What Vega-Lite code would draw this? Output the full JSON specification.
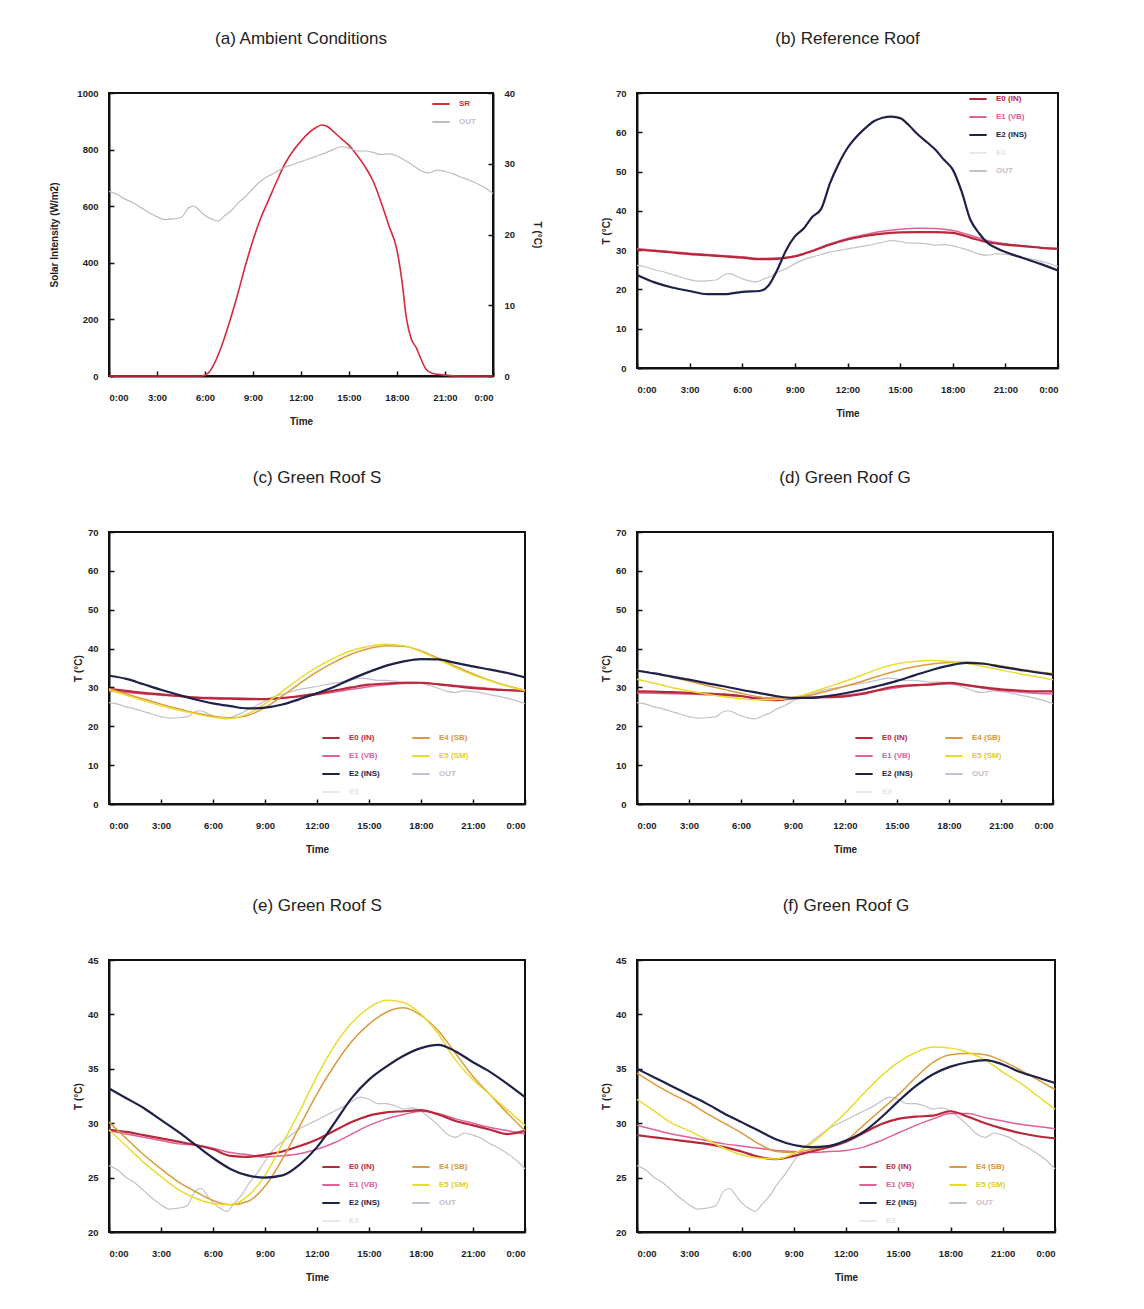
{
  "$schema": "https://vega.github.io/schema/vega-lite/v6.json",
  "background": "white",
  "padding": {"left": 48, "top": 29, "right": 5, "bottom": 5},
  "columns": 2,
  "bounds": "flush",
  "align": "each",
  "spacing": {"row": 156, "column": 112},
  "resolve": {"scale": {"color": "independent"}, "legend": {"color": "independent"}},
  "datasets": {
    "sr": [
      {"h": 0, "SR": 0}, {"h": 1, "SR": 0}, {"h": 2, "SR": 0}, {"h": 3, "SR": 0}, {"h": 4, "SR": 0}, {"h": 5, "SR": 0},
      {"h": 5.8, "SR": 0}, {"h": 6.2, "SR": 10}, {"h": 6.5, "SR": 35}, {"h": 7, "SR": 100}, {"h": 7.5, "SR": 185},
      {"h": 8, "SR": 280}, {"h": 8.5, "SR": 385}, {"h": 9, "SR": 480}, {"h": 9.5, "SR": 560}, {"h": 10, "SR": 625},
      {"h": 10.5, "SR": 690}, {"h": 11, "SR": 750}, {"h": 11.5, "SR": 795}, {"h": 12, "SR": 830}, {"h": 12.5, "SR": 860},
      {"h": 13, "SR": 880}, {"h": 13.3, "SR": 887}, {"h": 13.7, "SR": 880}, {"h": 14, "SR": 865}, {"h": 14.5, "SR": 840},
      {"h": 15, "SR": 815}, {"h": 15.5, "SR": 780}, {"h": 16, "SR": 740}, {"h": 16.5, "SR": 690}, {"h": 17, "SR": 615},
      {"h": 17.5, "SR": 530}, {"h": 18, "SR": 445}, {"h": 18.3, "SR": 340}, {"h": 18.6, "SR": 200}, {"h": 18.9, "SR": 130},
      {"h": 19.2, "SR": 100}, {"h": 19.5, "SR": 60}, {"h": 19.8, "SR": 25}, {"h": 20.2, "SR": 10}, {"h": 21, "SR": 3},
      {"h": 22, "SR": 0}, {"h": 23, "SR": 0}, {"h": 24, "SR": 0}
    ],
    "out": [
      {"h": 0, "OUT": 26.1}, {"h": 0.5, "OUT": 25.7}, {"h": 1, "OUT": 25.0}, {"h": 1.5, "OUT": 24.5}, {"h": 2, "OUT": 23.8},
      {"h": 2.5, "OUT": 23.1}, {"h": 3, "OUT": 22.5}, {"h": 3.5, "OUT": 22.1}, {"h": 4, "OUT": 22.2}, {"h": 4.5, "OUT": 22.4},
      {"h": 5, "OUT": 23.8}, {"h": 5.3, "OUT": 24.0}, {"h": 5.7, "OUT": 23.3}, {"h": 6, "OUT": 22.7}, {"h": 6.5, "OUT": 22.1},
      {"h": 6.8, "OUT": 21.9}, {"h": 7.2, "OUT": 22.6}, {"h": 7.7, "OUT": 23.5}, {"h": 8, "OUT": 24.3}, {"h": 8.5, "OUT": 25.3},
      {"h": 9, "OUT": 26.5}, {"h": 9.5, "OUT": 27.6}, {"h": 10, "OUT": 28.3}, {"h": 10.5, "OUT": 28.9}, {"h": 11, "OUT": 29.5},
      {"h": 11.5, "OUT": 29.9}, {"h": 12, "OUT": 30.3}, {"h": 12.5, "OUT": 30.7}, {"h": 13, "OUT": 31.1}, {"h": 13.5, "OUT": 31.5},
      {"h": 14, "OUT": 32.0}, {"h": 14.5, "OUT": 32.4}, {"h": 15, "OUT": 32.2}, {"h": 15.5, "OUT": 31.8}, {"h": 16, "OUT": 31.8},
      {"h": 16.5, "OUT": 31.6}, {"h": 17, "OUT": 31.3}, {"h": 17.5, "OUT": 31.4}, {"h": 18, "OUT": 31.1}, {"h": 18.5, "OUT": 30.5},
      {"h": 19, "OUT": 29.8}, {"h": 19.5, "OUT": 29.0}, {"h": 20, "OUT": 28.7}, {"h": 20.5, "OUT": 29.1}, {"h": 21, "OUT": 28.9},
      {"h": 21.5, "OUT": 28.6}, {"h": 22, "OUT": 28.1}, {"h": 22.5, "OUT": 27.7}, {"h": 23, "OUT": 27.2}, {"h": 23.5, "OUT": 26.6},
      {"h": 24, "OUT": 25.8}
    ],
    "b": [
      {"h": 0, "E0": 30.1, "E1": 30.4, "E2": 23.7}, {"h": 1, "E0": 29.8, "E1": 30.0, "E2": 21.8}, {"h": 2, "E0": 29.4, "E1": 29.6, "E2": 20.5},
      {"h": 3, "E0": 29.0, "E1": 29.2, "E2": 19.6}, {"h": 4, "E0": 28.7, "E1": 28.9, "E2": 18.8}, {"h": 5, "E0": 28.4, "E1": 28.6, "E2": 18.8},
      {"h": 6, "E0": 28.1, "E1": 28.3, "E2": 19.4}, {"h": 7, "E0": 27.7, "E1": 27.9, "E2": 19.6}, {"h": 7.5, "E2": 21.0},
      {"h": 8, "E0": 27.8, "E1": 28.0, "E2": 25.0}, {"h": 8.5, "E2": 30.0}, {"h": 9, "E0": 28.4, "E1": 28.5, "E2": 33.5}, {"h": 9.5, "E2": 35.5},
      {"h": 10, "E0": 29.8, "E1": 29.9, "E2": 38.5}, {"h": 10.5, "E2": 40.5}, {"h": 11, "E0": 31.4, "E1": 31.6, "E2": 47.0}, {"h": 11.5, "E2": 52.0},
      {"h": 12, "E0": 32.7, "E1": 33.0, "E2": 56.0}, {"h": 12.5, "E2": 58.8}, {"h": 13, "E0": 33.6, "E1": 34.0, "E2": 61.0}, {"h": 13.5, "E2": 62.8},
      {"h": 14, "E0": 34.2, "E1": 34.8, "E2": 63.7}, {"h": 14.5, "E2": 64.0}, {"h": 15, "E0": 34.5, "E1": 35.3, "E2": 63.6}, {"h": 15.5, "E2": 61.8},
      {"h": 16, "E0": 34.6, "E1": 35.6, "E2": 59.5}, {"h": 16.5, "E2": 57.6}, {"h": 17, "E0": 34.6, "E1": 35.5, "E2": 55.6}, {"h": 17.5, "E2": 53.0},
      {"h": 18, "E0": 34.4, "E1": 35.0, "E2": 50.5}, {"h": 18.5, "E2": 45.0}, {"h": 19, "E0": 33.2, "E1": 33.8, "E2": 37.8}, {"h": 19.5, "E2": 34.3},
      {"h": 20, "E0": 32.0, "E1": 32.4, "E2": 31.8}, {"h": 20.5, "E2": 30.5}, {"h": 21, "E0": 31.4, "E1": 31.6, "E2": 29.5},
      {"h": 22, "E0": 31.0, "E1": 31.1, "E2": 28.0}, {"h": 23, "E0": 30.6, "E1": 30.7, "E2": 26.5}, {"h": 24, "E0": 30.3, "E1": 30.4, "E2": 24.8}
    ],
    "c": [
      {"h": 0, "E0": 29.6, "E1": 29.1, "E2": 33.0, "E4": 29.7, "E5": 29.4},
      {"h": 1, "E0": 29.1, "E1": 28.7, "E2": 32.2, "E4": 28.3, "E5": 28.0},
      {"h": 2, "E0": 28.6, "E1": 28.3, "E2": 30.8, "E4": 27.0, "E5": 26.6},
      {"h": 3, "E0": 28.2, "E1": 28.0, "E2": 29.4, "E4": 25.7, "E5": 25.3},
      {"h": 4, "E0": 27.8, "E1": 27.7, "E2": 28.1, "E4": 24.5, "E5": 24.2},
      {"h": 5, "E0": 27.4, "E1": 27.5, "E2": 26.9, "E4": 23.4, "E5": 23.2},
      {"h": 6, "E0": 27.2, "E1": 27.4, "E2": 25.9, "E4": 22.6, "E5": 22.3},
      {"h": 7, "E0": 27.1, "E1": 27.3, "E2": 25.2, "E4": 22.2, "E5": 22.0},
      {"h": 8, "E0": 27.0, "E1": 27.2, "E2": 24.6, "E4": 22.8, "E5": 23.2},
      {"h": 9, "E0": 27.0, "E1": 27.1, "E2": 24.8, "E4": 24.8, "E5": 25.8},
      {"h": 10, "E0": 27.3, "E1": 27.3, "E2": 25.6, "E4": 27.8, "E5": 29.0},
      {"h": 11, "E0": 27.8, "E1": 27.6, "E2": 27.0, "E4": 31.0, "E5": 32.3},
      {"h": 12, "E0": 28.4, "E1": 28.1, "E2": 28.5, "E4": 34.0, "E5": 35.2},
      {"h": 13, "E0": 29.2, "E1": 28.8, "E2": 30.2, "E4": 36.5, "E5": 37.6},
      {"h": 14, "E0": 30.0, "E1": 29.5, "E2": 32.2, "E4": 38.6, "E5": 39.5},
      {"h": 15, "E0": 30.7, "E1": 30.2, "E2": 34.0, "E4": 40.0, "E5": 40.6},
      {"h": 16, "E0": 31.0, "E1": 30.7, "E2": 35.6, "E4": 40.7, "E5": 41.1},
      {"h": 17, "E0": 31.2, "E1": 31.0, "E2": 36.7, "E4": 40.6, "E5": 40.7},
      {"h": 18, "E0": 31.2, "E1": 31.1, "E2": 37.3, "E4": 39.4, "E5": 39.2},
      {"h": 19, "E0": 30.8, "E1": 30.9, "E2": 37.2, "E4": 37.5, "E5": 37.2},
      {"h": 20, "E0": 30.3, "E1": 30.5, "E2": 36.3, "E4": 35.4, "E5": 35.1},
      {"h": 21, "E0": 29.8, "E1": 30.1, "E2": 35.4, "E4": 33.5, "E5": 33.2},
      {"h": 22, "E0": 29.5, "E1": 29.7, "E2": 34.6, "E4": 31.8, "E5": 31.7},
      {"h": 23, "E0": 29.3, "E1": 29.3, "E2": 33.7, "E4": 30.4, "E5": 30.3},
      {"h": 24, "E0": 29.1, "E1": 29.0, "E2": 32.6, "E4": 29.3, "E5": 29.2}
    ],
    "d": [
      {"h": 0, "E0": 29.0, "E1": 28.6, "E2": 34.3, "E4": 34.4, "E5": 32.1},
      {"h": 1, "E0": 28.9, "E1": 28.5, "E2": 33.6, "E4": 33.6, "E5": 31.1},
      {"h": 2, "E0": 28.8, "E1": 28.4, "E2": 32.8, "E4": 32.6, "E5": 30.0},
      {"h": 3, "E0": 28.6, "E1": 28.3, "E2": 32.0, "E4": 31.6, "E5": 29.1},
      {"h": 4, "E0": 28.4, "E1": 28.1, "E2": 31.1, "E4": 30.5, "E5": 28.3},
      {"h": 5, "E0": 28.2, "E1": 27.9, "E2": 30.3, "E4": 29.5, "E5": 27.6},
      {"h": 6, "E0": 27.8, "E1": 27.7, "E2": 29.4, "E4": 28.5, "E5": 27.1},
      {"h": 7, "E0": 27.0, "E1": 27.4, "E2": 28.6, "E4": 27.6, "E5": 26.8},
      {"h": 8, "E0": 26.7, "E1": 27.3, "E2": 27.8, "E4": 27.0, "E5": 26.9},
      {"h": 9, "E0": 27.2, "E1": 27.3, "E2": 27.3, "E4": 27.3, "E5": 27.4},
      {"h": 10, "E0": 27.4, "E1": 27.4, "E2": 27.3, "E4": 28.0, "E5": 28.6},
      {"h": 11, "E0": 27.5, "E1": 27.6, "E2": 27.8, "E4": 29.1, "E5": 30.1},
      {"h": 12, "E0": 27.7, "E1": 28.0, "E2": 28.5, "E4": 30.3, "E5": 31.6},
      {"h": 13, "E0": 28.3, "E1": 28.6, "E2": 29.4, "E4": 31.6, "E5": 33.2},
      {"h": 14, "E0": 29.4, "E1": 29.2, "E2": 30.5, "E4": 33.0, "E5": 34.9},
      {"h": 15, "E0": 30.3, "E1": 29.9, "E2": 31.7, "E4": 34.3, "E5": 36.1},
      {"h": 16, "E0": 30.6, "E1": 30.4, "E2": 33.1, "E4": 35.3, "E5": 36.7},
      {"h": 17, "E0": 30.8, "E1": 30.7, "E2": 34.5, "E4": 36.0, "E5": 36.9},
      {"h": 18, "E0": 31.2, "E1": 30.9, "E2": 35.6, "E4": 36.4, "E5": 36.7},
      {"h": 19, "E0": 30.6, "E1": 30.5, "E2": 36.3, "E4": 36.5, "E5": 36.2},
      {"h": 20, "E0": 30.0, "E1": 29.8, "E2": 36.1, "E4": 36.2, "E5": 35.4},
      {"h": 21, "E0": 29.5, "E1": 29.2, "E2": 35.3, "E4": 35.5, "E5": 34.5},
      {"h": 22, "E0": 29.2, "E1": 28.8, "E2": 34.6, "E4": 34.8, "E5": 33.6},
      {"h": 23, "E0": 29.0, "E1": 28.5, "E2": 33.9, "E4": 34.1, "E5": 32.8},
      {"h": 24, "E0": 29.0, "E1": 28.3, "E2": 33.3, "E4": 33.5, "E5": 32.0}
    ],
    "e": [
      {"h": 0, "E0": 29.4, "E1": 29.3, "E2": 33.2, "E4": 30.1, "E5": 29.4},
      {"h": 1, "E0": 29.2, "E1": 29.0, "E2": 32.3, "E4": 28.6, "E5": 27.9},
      {"h": 2, "E0": 28.9, "E1": 28.7, "E2": 31.4, "E4": 27.1, "E5": 26.4},
      {"h": 3, "E0": 28.6, "E1": 28.4, "E2": 30.3, "E4": 25.8, "E5": 25.1},
      {"h": 4, "E0": 28.3, "E1": 28.1, "E2": 29.2, "E4": 24.6, "E5": 23.9},
      {"h": 5, "E0": 28.0, "E1": 28.0, "E2": 28.0, "E4": 23.7, "E5": 23.1},
      {"h": 6, "E0": 27.6, "E1": 27.7, "E2": 26.8, "E4": 22.9, "E5": 22.6},
      {"h": 7, "E0": 27.0, "E1": 27.3, "E2": 25.8, "E4": 22.5, "E5": 22.5},
      {"h": 8, "E0": 26.9, "E1": 27.1, "E2": 25.2, "E4": 22.8, "E5": 23.3},
      {"h": 9, "E0": 27.1, "E1": 26.9, "E2": 25.0, "E4": 24.2, "E5": 25.2},
      {"h": 10, "E0": 27.4, "E1": 27.0, "E2": 25.2, "E4": 26.7, "E5": 28.1},
      {"h": 11, "E0": 27.9, "E1": 27.2, "E2": 26.2, "E4": 29.7, "E5": 31.1},
      {"h": 12, "E0": 28.5, "E1": 27.6, "E2": 27.8, "E4": 32.7, "E5": 34.3},
      {"h": 13, "E0": 29.3, "E1": 28.2, "E2": 30.0, "E4": 35.3, "E5": 37.1},
      {"h": 14, "E0": 30.1, "E1": 29.0, "E2": 32.3, "E4": 37.5, "E5": 39.2},
      {"h": 15, "E0": 30.7, "E1": 29.8, "E2": 34.0, "E4": 39.1, "E5": 40.6},
      {"h": 16, "E0": 31.0, "E1": 30.4, "E2": 35.2, "E4": 40.2, "E5": 41.3},
      {"h": 17, "E0": 31.1, "E1": 30.8, "E2": 36.2, "E4": 40.6, "E5": 41.1},
      {"h": 18, "E0": 31.2, "E1": 31.1, "E2": 36.9, "E4": 39.9, "E5": 40.0},
      {"h": 19, "E0": 30.8, "E1": 30.9, "E2": 37.2, "E4": 38.5, "E5": 38.2},
      {"h": 20, "E0": 30.2, "E1": 30.4, "E2": 36.6, "E4": 36.4, "E5": 35.8},
      {"h": 21, "E0": 29.8, "E1": 30.0, "E2": 35.6, "E4": 34.3, "E5": 34.0},
      {"h": 22, "E0": 29.4, "E1": 29.6, "E2": 34.7, "E4": 32.6, "E5": 32.6},
      {"h": 23, "E0": 29.0, "E1": 29.3, "E2": 33.6, "E4": 30.9, "E5": 31.2},
      {"h": 24, "E0": 29.3, "E1": 29.0, "E2": 32.4, "E4": 29.3, "E5": 29.8}
    ],
    "f": [
      {"h": 0, "E0": 28.9, "E1": 29.8, "E2": 35.0, "E4": 34.6, "E5": 32.2},
      {"h": 1, "E0": 28.7, "E1": 29.4, "E2": 34.2, "E4": 33.6, "E5": 31.1},
      {"h": 2, "E0": 28.5, "E1": 29.0, "E2": 33.4, "E4": 32.7, "E5": 30.0},
      {"h": 3, "E0": 28.3, "E1": 28.7, "E2": 32.6, "E4": 31.9, "E5": 29.3},
      {"h": 4, "E0": 28.1, "E1": 28.4, "E2": 31.8, "E4": 30.9, "E5": 28.5},
      {"h": 5, "E0": 27.8, "E1": 28.1, "E2": 30.9, "E4": 30.0, "E5": 27.7},
      {"h": 6, "E0": 27.4, "E1": 27.9, "E2": 30.1, "E4": 29.1, "E5": 27.1},
      {"h": 7, "E0": 26.9, "E1": 27.7, "E2": 29.3, "E4": 28.1, "E5": 26.8},
      {"h": 8, "E0": 26.7, "E1": 27.5, "E2": 28.5, "E4": 27.4, "E5": 26.7},
      {"h": 9, "E0": 27.0, "E1": 27.4, "E2": 28.0, "E4": 27.3, "E5": 27.2},
      {"h": 10, "E0": 27.4, "E1": 27.3, "E2": 27.8, "E4": 27.6, "E5": 28.1},
      {"h": 11, "E0": 27.8, "E1": 27.4, "E2": 27.9, "E4": 27.9, "E5": 29.5},
      {"h": 12, "E0": 28.3, "E1": 27.5, "E2": 28.4, "E4": 28.4, "E5": 31.0},
      {"h": 13, "E0": 29.1, "E1": 27.8, "E2": 29.2, "E4": 29.8, "E5": 32.7},
      {"h": 14, "E0": 29.9, "E1": 28.4, "E2": 30.5, "E4": 31.2, "E5": 34.3},
      {"h": 15, "E0": 30.4, "E1": 29.1, "E2": 32.0, "E4": 32.6, "E5": 35.6},
      {"h": 16, "E0": 30.6, "E1": 29.8, "E2": 33.4, "E4": 34.2, "E5": 36.5},
      {"h": 17, "E0": 30.7, "E1": 30.4, "E2": 34.5, "E4": 35.6, "E5": 37.0},
      {"h": 18, "E0": 31.1, "E1": 30.9, "E2": 35.2, "E4": 36.3, "E5": 36.9},
      {"h": 19, "E0": 30.6, "E1": 30.9, "E2": 35.6, "E4": 36.4, "E5": 36.5},
      {"h": 20, "E0": 30.0, "E1": 30.5, "E2": 35.8, "E4": 36.3, "E5": 35.8},
      {"h": 21, "E0": 29.5, "E1": 30.2, "E2": 35.4, "E4": 35.7, "E5": 34.7},
      {"h": 22, "E0": 29.1, "E1": 29.9, "E2": 34.7, "E4": 34.9, "E5": 33.7},
      {"h": 23, "E0": 28.8, "E1": 29.7, "E2": 34.2, "E4": 34.0, "E5": 32.5},
      {"h": 24, "E0": 28.6, "E1": 29.5, "E2": 33.7, "E4": 33.1, "E5": 31.3}
    ]
  },
  "concat": [
    {
      "width": 384, "height": 283,
      "title": "(a) Ambient Conditions",
      "layer": [
        {
          "data": {"name": "sr"},
          "mark": {"type": "line", "interpolate": "monotone", "strokeWidth": 1.6},
          "encoding": {
            "x": {"field": "h", "type": "quantitative", "scale": {"domain": [0, 24], "nice": false}, "axis": {"values": [0, 3, 6, 9, 12, 15, 18, 21, 24], "labelExpr": "(datum.value % 24) + ':00'", "title": "Time"}},
            "y": {"field": "SR", "type": "quantitative", "scale": {"domain": [0, 1000], "nice": false}, "axis": {"title": "Solar Intensity (W/m2)", "values": [0, 200, 400, 600, 800, 1000], "format": "d", "titlePadding": 17}},
            "color": {"datum": "SR", "type": "nominal", "scale": {"domain": ["SR", "OUT"], "range": ["#d42a3c", "#bdbdbd"]}, "legend": {"title": null, "legendX": 322, "legendY": 1}}
          }
        },
        {
          "data": {"name": "out"},
          "mark": {"type": "line", "interpolate": "monotone", "strokeWidth": 1.2},
          "encoding": {
            "x": {"field": "h", "type": "quantitative"},
            "y": {"field": "OUT", "type": "quantitative", "scale": {"domain": [0, 40], "nice": false}, "axis": {"orient": "right", "title": "T (°C)", "values": [0, 10, 20, 30, 40], "titlePadding": 17}},
            "color": {"datum": "OUT", "type": "nominal"}
          }
        }
      ],
      "resolve": {"scale": {"y": "independent"}}
    },
    {
      "width": 421, "height": 275,
      "title": "(b) Reference Roof",
      "encoding": {
        "x": {"field": "h", "type": "quantitative", "scale": {"domain": [0, 24], "nice": false}, "axis": {"values": [0, 3, 6, 9, 12, 15, 18, 21, 24], "labelExpr": "(datum.value % 24) + ':00'", "title": "Time"}},
        "y": {"field": "t", "type": "quantitative", "scale": {"domain": [0, 70], "nice": false}, "axis": {"title": "T (°C)", "values": [0, 10, 20, 30, 40, 50, 60, 70]}},
        "color": {"field": "s", "type": "nominal", "scale": {"domain": ["E0", "E1", "E2", "E3", "OUT"], "range": ["#b8283a", "#e0609a", "#1e2248", "#e8e6ee", "#c4c0cc"]},
          "legend": {"title": null, "legendX": 331, "legendY": -4, "labelExpr": "datum.label=='E0'?'E0 (IN)':datum.label=='E1'?'E1 (VB)':datum.label=='E2'?'E2 (INS)':datum.label=='E4'?'E4 (SB)':datum.label=='E5'?'E5 (SM)':datum.label"}}
      },
      "layer": [
        {"data": {"name": "out"}, "transform": [{"fold": ["OUT"], "as": ["s", "t"]}], "mark": {"type": "line", "interpolate": "monotone", "strokeWidth": 1.2}},
        {"data": {"name": "b"}, "transform": [{"fold": ["E1", "E0", "E2"], "as": ["s", "t"]}, {"filter": "isValid(datum.t)"}],
          "mark": {"type": "line", "interpolate": "monotone"},
          "encoding": {"strokeWidth": {"condition": {"test": "datum.s=='E0'||datum.s=='E2'", "value": 2.2}, "value": 1.5}}}
      ]
    },
    {
      "width": 416, "height": 272,
      "title": "(c) Green Roof S",
      "encoding": {
        "x": {"field": "h", "type": "quantitative", "scale": {"domain": [0, 24], "nice": false}, "axis": {"values": [0, 3, 6, 9, 12, 15, 18, 21, 24], "labelExpr": "(datum.value % 24) + ':00'", "title": "Time"}},
        "y": {"field": "t", "type": "quantitative", "scale": {"domain": [0, 70], "nice": false}, "axis": {"title": "T (°C)", "values": [0, 10, 20, 30, 40, 50, 60, 70]}},
        "color": {"field": "s", "type": "nominal", "scale": {"domain": ["E0", "E1", "E2", "E3", "E4", "E5", "OUT"], "range": ["#b8283a", "#e0609a", "#1e2248", "#e8e6ee", "#dc9a3c", "#e8dc30", "#c4c0cc"]},
          "legend": {"title": null, "columns": 2, "legendX": 212, "legendY": 196, "labelExpr": "datum.label=='E0'?'E0 (IN)':datum.label=='E1'?'E1 (VB)':datum.label=='E2'?'E2 (INS)':datum.label=='E4'?'E4 (SB)':datum.label=='E5'?'E5 (SM)':datum.label"}}
      },
      "layer": [
        {"data": {"name": "out"}, "transform": [{"fold": ["OUT"], "as": ["s", "t"]}], "mark": {"type": "line", "interpolate": "monotone", "strokeWidth": 1.2}},
        {"data": {"name": "c"}, "transform": [{"fold": ["E1", "E0", "E4", "E5", "E2"], "as": ["s", "t"]}],
          "mark": {"type": "line", "interpolate": "monotone"},
          "encoding": {"strokeWidth": {"condition": {"test": "datum.s=='E0'||datum.s=='E2'", "value": 2.2}, "value": 1.5}}}
      ]
    },
    {
      "width": 416, "height": 272,
      "title": "(d) Green Roof G",
      "encoding": {
        "x": {"field": "h", "type": "quantitative", "scale": {"domain": [0, 24], "nice": false}, "axis": {"values": [0, 3, 6, 9, 12, 15, 18, 21, 24], "labelExpr": "(datum.value % 24) + ':00'", "title": "Time"}},
        "y": {"field": "t", "type": "quantitative", "scale": {"domain": [0, 70], "nice": false}, "axis": {"title": "T (°C)", "values": [0, 10, 20, 30, 40, 50, 60, 70]}},
        "color": {"field": "s", "type": "nominal", "scale": {"domain": ["E0", "E1", "E2", "E3", "E4", "E5", "OUT"], "range": ["#b8283a", "#e0609a", "#1e2248", "#e8e6ee", "#dc9a3c", "#e8dc30", "#c4c0cc"]},
          "legend": {"title": null, "columns": 2, "legendX": 217, "legendY": 196, "labelExpr": "datum.label=='E0'?'E0 (IN)':datum.label=='E1'?'E1 (VB)':datum.label=='E2'?'E2 (INS)':datum.label=='E4'?'E4 (SB)':datum.label=='E5'?'E5 (SM)':datum.label"}}
      },
      "layer": [
        {"data": {"name": "out"}, "transform": [{"fold": ["OUT"], "as": ["s", "t"]}], "mark": {"type": "line", "interpolate": "monotone", "strokeWidth": 1.2}},
        {"data": {"name": "d"}, "transform": [{"fold": ["E1", "E0", "E4", "E5", "E2"], "as": ["s", "t"]}],
          "mark": {"type": "line", "interpolate": "monotone"},
          "encoding": {"strokeWidth": {"condition": {"test": "datum.s=='E0'||datum.s=='E2'", "value": 2.2}, "value": 1.5}}}
      ]
    },
    {
      "width": 416, "height": 272,
      "title": "(e) Green Roof S",
      "encoding": {
        "x": {"field": "h", "type": "quantitative", "scale": {"domain": [0, 24], "nice": false}, "axis": {"values": [0, 3, 6, 9, 12, 15, 18, 21, 24], "labelExpr": "(datum.value % 24) + ':00'", "title": "Time"}},
        "y": {"field": "t", "type": "quantitative", "scale": {"domain": [20, 45], "nice": false}, "axis": {"title": "T (°C)", "values": [20, 25, 30, 35, 40, 45]}},
        "color": {"field": "s", "type": "nominal", "scale": {"domain": ["E0", "E1", "E2", "E3", "E4", "E5", "OUT"], "range": ["#b8283a", "#e0609a", "#1e2248", "#e8e6ee", "#dc9a3c", "#e8dc30", "#c4c0cc"]},
          "legend": {"title": null, "columns": 2, "legendX": 212, "legendY": 197, "labelExpr": "datum.label=='E0'?'E0 (IN)':datum.label=='E1'?'E1 (VB)':datum.label=='E2'?'E2 (INS)':datum.label=='E4'?'E4 (SB)':datum.label=='E5'?'E5 (SM)':datum.label"}}
      },
      "layer": [
        {"data": {"name": "out"}, "transform": [{"fold": ["OUT"], "as": ["s", "t"]}], "mark": {"type": "line", "interpolate": "monotone", "strokeWidth": 1.2}},
        {"data": {"name": "e"}, "transform": [{"fold": ["E1", "E0", "E4", "E5", "E2"], "as": ["s", "t"]}],
          "mark": {"type": "line", "interpolate": "monotone"},
          "encoding": {"strokeWidth": {"condition": {"test": "datum.s=='E0'||datum.s=='E2'", "value": 2.2}, "value": 1.5}}}
      ]
    },
    {
      "width": 418, "height": 272,
      "title": "(f) Green Roof G",
      "encoding": {
        "x": {"field": "h", "type": "quantitative", "scale": {"domain": [0, 24], "nice": false}, "axis": {"values": [0, 3, 6, 9, 12, 15, 18, 21, 24], "labelExpr": "(datum.value % 24) + ':00'", "title": "Time"}},
        "y": {"field": "t", "type": "quantitative", "scale": {"domain": [20, 45], "nice": false}, "axis": {"title": "T (°C)", "values": [20, 25, 30, 35, 40, 45]}},
        "color": {"field": "s", "type": "nominal", "scale": {"domain": ["E0", "E1", "E2", "E3", "E4", "E5", "OUT"], "range": ["#b8283a", "#e0609a", "#1e2248", "#e8e6ee", "#dc9a3c", "#e8dc30", "#c4c0cc"]},
          "legend": {"title": null, "columns": 2, "legendX": 221, "legendY": 197, "labelExpr": "datum.label=='E0'?'E0 (IN)':datum.label=='E1'?'E1 (VB)':datum.label=='E2'?'E2 (INS)':datum.label=='E4'?'E4 (SB)':datum.label=='E5'?'E5 (SM)':datum.label"}}
      },
      "layer": [
        {"data": {"name": "out"}, "transform": [{"fold": ["OUT"], "as": ["s", "t"]}], "mark": {"type": "line", "interpolate": "monotone", "strokeWidth": 1.2}},
        {"data": {"name": "f"}, "transform": [{"fold": ["E1", "E0", "E4", "E5", "E2"], "as": ["s", "t"]}],
          "mark": {"type": "line", "interpolate": "monotone"},
          "encoding": {"strokeWidth": {"condition": {"test": "datum.s=='E0'||datum.s=='E2'", "value": 2.2}, "value": 1.5}}}
      ]
    }
  ],
  "config": {
    "font": "Liberation Sans",
    "view": {"stroke": "#111", "strokeWidth": 2},
    "axis": {"grid": false, "domainColor": "#111", "domainWidth": 2, "tickColor": "#111", "tickWidth": 1.5, "tickSize": -5,
      "labelFont": "Liberation Sans", "labelFontSize": 9.5, "labelFontWeight": "bold", "labelColor": "#222",
      "titleFont": "Liberation Sans", "titleFontSize": 10, "titleFontWeight": "bold", "titleColor": "#222"},
    "axisX": {"labelPadding": 21, "titlePadding": 15},
    "axisY": {"labelPadding": 16, "titlePadding": 4},
    "title": {"font": "Liberation Sans", "fontSize": 17, "fontWeight": "normal", "color": "#222", "offset": 40},
    "legend": {"orient": "none", "symbolType": "stroke", "symbolSize": 300, "symbolStrokeWidth": 2,
      "labelFont": "Liberation Sans", "labelFontSize": 8, "labelFontWeight": "bold", "labelOffset": 8, "rowPadding": 4, "columnPadding": 28,
      "labelColor": {"expr": "datum.value=='E0'?'#b8283a':datum.value=='E1'?'#e0609a':datum.value=='E2'?'#1e2248':datum.value=='E4'?'#d9963a':datum.value=='E5'?'#e0d020':datum.value=='SR'?'#d42a3c':datum.value=='E3'?'#e4e2ea':'#c4c0cc'"}},
    "line": {"interpolate": "monotone"}
  }
}
